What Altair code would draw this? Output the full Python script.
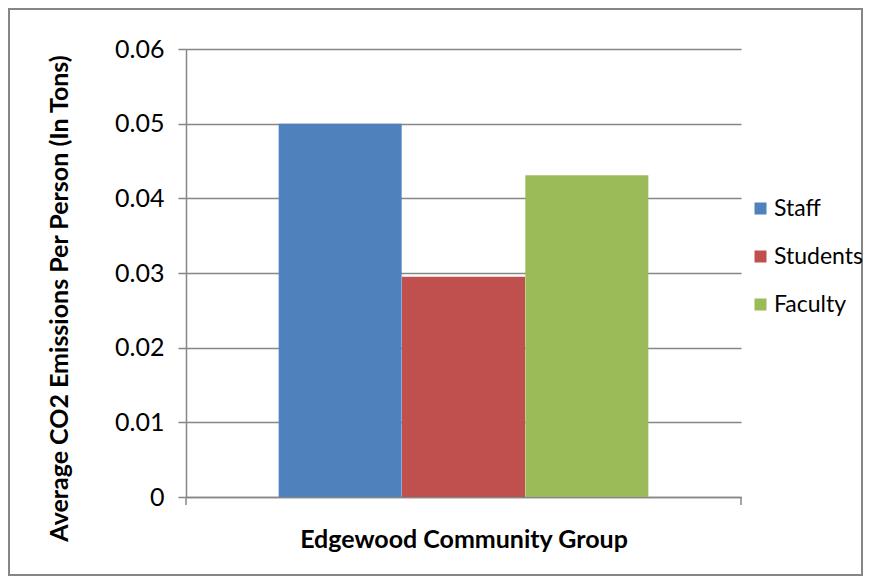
import altair as alt
import pandas as pd

groups = ["Staff", "Students", "Faculty"]
values = [0.050, 0.0295, 0.0431]
colors = ["#4F81BD", "#C0504D", "#9BBB59"]
y_ticks = [0, 0.01, 0.02, 0.03, 0.04, 0.05, 0.06]

df = pd.DataFrame({"Group": groups, "Value": values})

FONT = "Lato"
GRID = "#868686"

bars = alt.Chart(df).mark_bar(size=123).encode(
    x=alt.X("Group:N", sort=groups,
            scale=alt.Scale(domain=groups, paddingInner=0, paddingOuter=0.75),
            axis=alt.Axis(title="Edgewood Community Group", labels=False, ticks=False,
                          domainColor=GRID, domainWidth=1.5, titleFont=FONT,
                          titleFontSize=25, titleFontWeight="bold", titleColor="black",
                          titlePadding=30)),
    y=alt.Y("Value:Q", scale=alt.Scale(domain=[0, 0.06], nice=False),
            axis=alt.Axis(title="Average CO2 Emissions Per Person (In Tons)", values=y_ticks,
                          format=".2~f", grid=True, gridColor=GRID, gridWidth=1.5,
                          domainColor=GRID, domainWidth=1.5, tickColor=GRID, tickSize=8,
                          tickWidth=1.5, labelFont=FONT, labelFontSize=25, labelColor="black",
                          labelPadding=14, titleFont=FONT, titleFontSize=25,
                          titleFontWeight="bold", titleColor="black", titlePadding=42,
                          titleY=249)),
    color=alt.Color("Group:N", sort=groups,
                    scale=alt.Scale(domain=groups, range=colors),
                    legend=alt.Legend(title=None, orient="none", legendX=563, legendY=148,
                                      padding=0, symbolType="square", symbolSize=144,
                                      symbolStrokeWidth=0, labelFont=FONT,
                                      labelFontSize=23, labelColor="black",
                                      rowPadding=24, labelOffset=2, labelLimit=200)),
)

end_ticks = alt.Chart(pd.DataFrame({"e": [0, 1]})).mark_rule(color=GRID, strokeWidth=1.5).encode(
    x=alt.X("e:Q", scale=alt.Scale(domain=[0, 1], range=[0, 555]), axis=None),
    y=alt.value(448), y2=alt.value(456),
)

border = alt.Chart(pd.DataFrame({"b": [0]})).mark_rect(
    fill=None, stroke=GRID, strokeWidth=2
).encode(
    x=alt.value(-177), x2=alt.value(676), y=alt.value(-40), y2=alt.value(526)
)

chart = alt.layer(border, bars, end_ticks).resolve_scale(x="independent").properties(
    width=555, height=448,
    autosize=alt.AutoSizeParams(type="none"),
    padding={"left": 186, "top": 49, "right": 130, "bottom": 86},
    background="white",
).configure_view(stroke=None)

chart.save("out.html", embed_options={"renderer": "svg", "actions": False})
